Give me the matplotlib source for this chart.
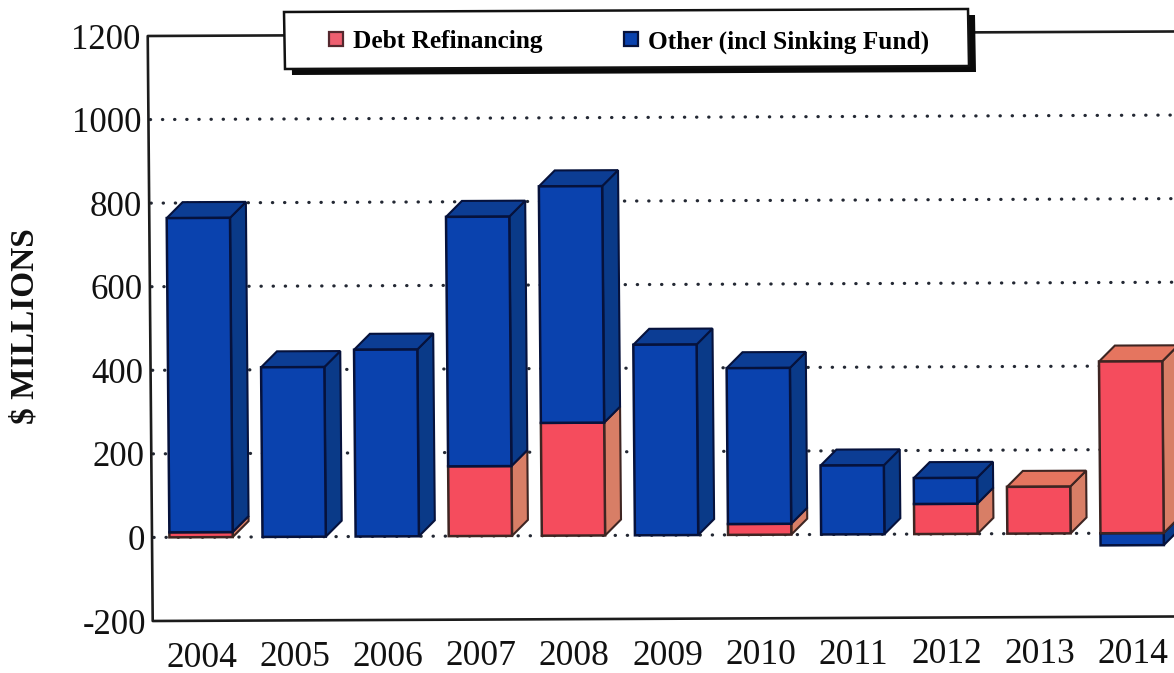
import matplotlib
matplotlib.use("Agg")
import matplotlib.pyplot as plt
from matplotlib.lines import Line2D
from matplotlib.patches import Polygon
from matplotlib.transforms import Affine2D

years = ["2004", "2005", "2006", "2007", "2008", "2009", "2010", "2011", "2012", "2013", "2014"]
debt_refinancing = [12, 0, 0, 167, 270, 0, 26, 0, 72, 112, 411]
other_sinking = [752, 406, 447, 597, 566, 456, 373, 165, 62, 0, -29]
y_ticks = [-200, 0, 200, 400, 600, 800, 1000, 1200]
y_tick_labels = ["-200", "0", "200", "400", "600", "800", "1000", "1200"]

BAR_W = 0.68
DEPTH_X = 0.172
DEPTH_Y = 38

RED = {"front": "#f54c5d", "side": "#d87e66", "top": "#e5755f", "edge": "#3e2522"}
BLUE = {"front": "#0a42ae", "side": "#0a3a88", "top": "#0c3d94", "edge": "#06123c"}
INK = "#111111"

W, H = 1174, 673
plt.rcParams["font.family"] = ["Liberation Serif", "DejaVu Serif"]

fig = plt.figure(figsize=(W / 100, H / 100), dpi=100)
ax = fig.add_axes([152 / W, (H - 621) / H, (W - 152) / W, 585 / H])
ax.set_xlim(-0.527, 10.45)
ax.set_ylim(-200, 1200)
for spine in ax.spines.values():
    spine.set_visible(False)

# the page sits slightly crooked, so everything goes through a small shear
shear = Affine2D.from_values(1, 0.0044, -0.0085, 1, 0.0085 * (H - 538), -0.0044 * 152)
data_tr = ax.transData + shear


def px(x, y):
    # pixel position, counted from the top left, to figure fraction
    return x / W, 1 - y / H


def draw_block(x, y0, y1, colors, with_top):
    left, right = x - BAR_W / 2, x + BAR_W / 2
    ax.bar(x, y1 - y0, BAR_W, bottom=y0, color=colors["front"], edgecolor=colors["edge"],
           linewidth=1.8, zorder=4, transform=data_tr)
    side = [(right, y0), (right + DEPTH_X, y0 + DEPTH_Y),
            (right + DEPTH_X, y1 + DEPTH_Y), (right, y1)]
    ax.add_patch(Polygon(side, facecolor=colors["side"], edgecolor=colors["edge"],
                         linewidth=1.5, zorder=3, transform=data_tr, clip_on=False))
    if with_top:
        top = [(left, y1), (left + DEPTH_X, y1 + DEPTH_Y),
               (right + DEPTH_X, y1 + DEPTH_Y), (right, y1)]
        ax.add_patch(Polygon(top, facecolor=colors["top"], edgecolor=colors["edge"],
                             linewidth=1.5, zorder=3, transform=data_tr, clip_on=False))


# dotted grid, then the frame (no right edge, it runs off the page)
x0, x1 = ax.get_xlim()
for v in y_ticks[1:-1]:
    ax.plot([x0 + 0.02, x1 + 0.1], [v, v], color="#232833", lw=2.3, ls=(0, (0.1, 3.7)),
            dash_capstyle="round", zorder=1, transform=data_tr, clip_on=False)
ax.plot([x1 + 0.1, x0, x0, x1 + 0.1], [1200, 1200, -200, -200], color="#1c1c1c", lw=1.9,
        zorder=2, transform=data_tr, clip_on=False)

for i in range(len(years)):
    refi = debt_refinancing[i]
    oth = other_sinking[i]
    if oth < 0:
        draw_block(i, oth, 0, BLUE, False)
    if refi > 0:
        draw_block(i, 0, refi, RED, oth <= 0)
    if oth > 0:
        draw_block(i, refi, refi + oth, BLUE, True)

ax.set_xticks(range(len(years)))
ax.set_xticklabels(years, fontsize=25.5, color=INK)
ax.set_yticks(y_ticks)
ax.set_yticklabels(y_tick_labels, fontsize=25, color=INK)
ax.tick_params(axis="both", length=0)
ax.tick_params(axis="x", pad=15)
ax.tick_params(axis="y", pad=5)
for lbl in ax.get_xticklabels() + ax.get_yticklabels():
    lbl.set_transform(lbl.get_transform() + shear)

fig.text(25 / W, 1 - 326 / H, "$ MILLIONS", rotation=90, fontsize=24, fontweight="bold",
         color=INK, ha="center", va="center")

# legend box with its hard shadow, the legend itself goes on top without a frame
shadow_pts = [px(291, 18), px(975, 15), px(976, 72), px(292, 75)]
box_pts = [px(284, 12), px(968, 9), px(969, 66), px(285, 69)]
fig.add_artist(Polygon(shadow_pts, transform=fig.transFigure, facecolor="#0a0a0a",
                       edgecolor="none", zorder=3))
fig.add_artist(Polygon(box_pts, transform=fig.transFigure, facecolor="white",
                       edgecolor="#111111", linewidth=1.8, zorder=4))

handles = [
    Line2D([], [], ls="", marker="s", ms=10, mfc="#ee5f70", mec="#54282e", mew=1.6),
    Line2D([], [], ls="", marker="s", ms=10, mfc="#0a42ae", mec="#06123c", mew=1.6),
]
fig.legend(handles, ["Debt Refinancing", "Other (incl Sinking Fund)"], ncol=2,
           loc="center left", bbox_to_anchor=px(323.5, 42), frameon=False,
           prop={"family": "Liberation Serif", "weight": "bold", "size": 18.3},
           borderaxespad=0, borderpad=0, handlelength=1.0, handletextpad=0.16,
           columnspacing=3.0)

fig.savefig("out.png", dpi=100)
